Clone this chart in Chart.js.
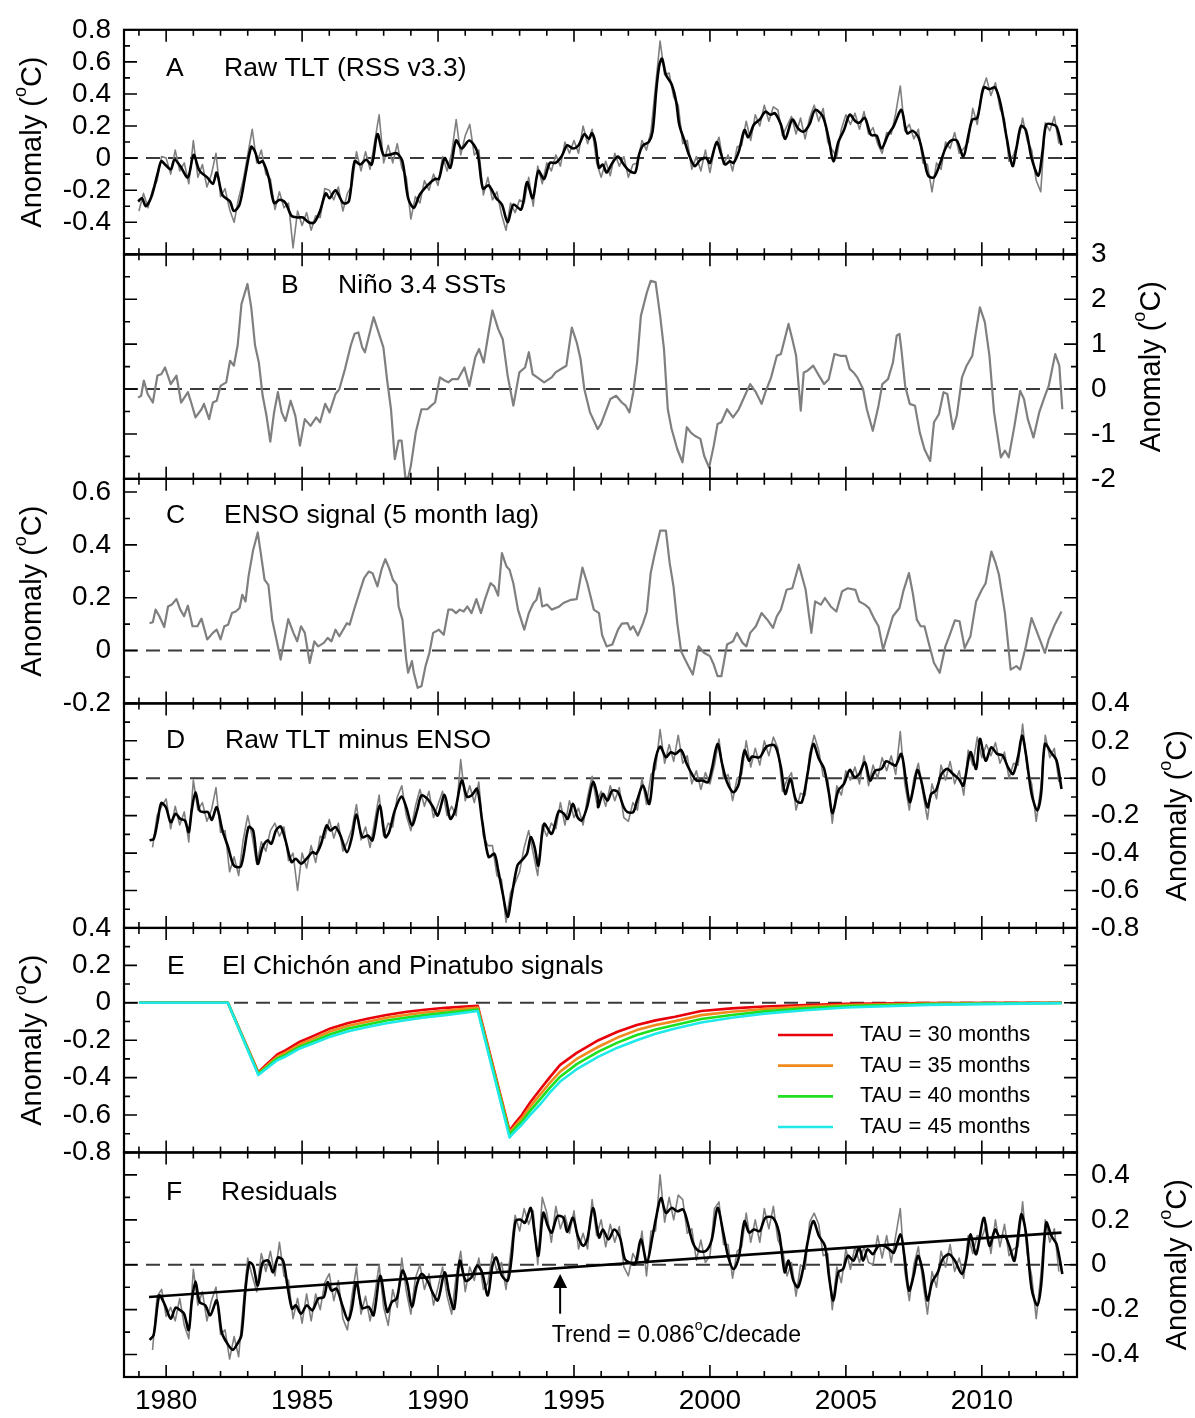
<!DOCTYPE html>
<html>
<head>
<meta charset="utf-8">
<script src="https://cdn.jsdelivr.net/npm/chart.js@4.4.1/dist/chart.umd.min.js"></script>
<style>
  html, body { margin: 0; padding: 0; background: #fff; }
  #wrap { position: relative; width: 1195px; height: 1418px; }
</style>
</head>
<body>
<div id="wrap"><canvas id="chart" width="1195" height="1418"></canvas></div>
<script>
// ---------- data ----------

// A: raw TLT, smoothed (black) as [year, anomaly]
const tltSmooth = [[1978.97,-0.27],[1979.11,-0.25],[1979.25,-0.30],[1979.46,-0.24],[1979.68,-0.10],[1979.82,-0.02],[1979.96,-0.04],[1980.17,-0.07],[1980.31,-0.01],[1980.52,-0.05],[1980.80,-0.12],[1981.01,0.02],[1981.23,-0.08],[1981.51,-0.12],[1981.72,-0.16],[1981.86,-0.09],[1982.07,-0.23],[1982.35,-0.27],[1982.49,-0.33],[1982.70,-0.29],[1982.92,-0.10],[1983.13,0.07],[1983.27,0.04],[1983.41,-0.03],[1983.55,-0.02],[1983.77,-0.12],[1983.97,-0.28],[1984.18,-0.26],[1984.39,-0.28],[1984.61,-0.36],[1984.82,-0.37],[1985.03,-0.37],[1985.24,-0.40],[1985.45,-0.40],[1985.66,-0.33],[1985.87,-0.22],[1986.01,-0.25],[1986.23,-0.20],[1986.51,-0.28],[1986.72,-0.27],[1986.93,-0.02],[1987.14,-0.04],[1987.35,-0.01],[1987.56,-0.04],[1987.77,0.15],[1987.99,0.02],[1988.20,0.02],[1988.48,0.03],[1988.69,-0.02],[1988.90,-0.25],[1989.11,-0.31],[1989.32,-0.23],[1989.61,-0.17],[1989.89,-0.13],[1990.03,-0.13],[1990.24,0.00],[1990.45,-0.06],[1990.66,0.11],[1990.87,0.06],[1991.15,0.11],[1991.44,0.04],[1991.65,-0.19],[1991.86,-0.17],[1992.14,-0.25],[1992.35,-0.29],[1992.56,-0.40],[1992.77,-0.29],[1993.06,-0.32],[1993.27,-0.15],[1993.48,-0.25],[1993.69,-0.08],[1993.90,-0.13],[1994.11,-0.03],[1994.32,-0.03],[1994.54,0.01],[1994.75,0.08],[1994.96,0.06],[1995.17,0.08],[1995.38,0.15],[1995.55,0.12],[1995.66,0.155],[1995.78,0.10],[1995.92,-0.06],[1996.06,-0.04],[1996.20,-0.09],[1996.41,-0.03],[1996.62,0.01],[1996.83,-0.04],[1997.04,-0.08],[1997.25,-0.09],[1997.39,0.02],[1997.54,0.08],[1997.75,0.10],[1997.89,0.165],[1998.03,0.43],[1998.14,0.58],[1998.24,0.62],[1998.38,0.52],[1998.59,0.46],[1998.76,0.35],[1998.87,0.21],[1999.08,0.10],[1999.23,0.02],[1999.44,-0.05],[1999.65,-0.01],[1999.86,0.00],[2000.00,-0.03],[2000.25,0.10],[2000.42,0.02],[2000.56,-0.04],[2000.73,-0.02],[2000.87,-0.03],[2001.06,0.04],[2001.27,0.175],[2001.41,0.13],[2001.62,0.21],[2001.83,0.24],[2002.04,0.29],[2002.23,0.27],[2002.39,0.28],[2002.61,0.21],[2002.77,0.12],[2003.03,0.24],[2003.24,0.185],[2003.45,0.165],[2003.66,0.21],[2003.87,0.30],[2004.15,0.26],[2004.37,0.12],[2004.54,-0.02],[2004.72,0.10],[2004.93,0.175],[2005.14,0.27],[2005.35,0.23],[2005.49,0.22],[2005.70,0.25],[2005.92,0.145],[2006.13,0.14],[2006.31,0.06],[2006.55,0.145],[2006.76,0.20],[2007.04,0.30],[2007.25,0.155],[2007.46,0.17],[2007.68,0.125],[2007.89,-0.02],[2008.03,-0.11],[2008.24,-0.12],[2008.45,-0.04],[2008.66,0.06],[2008.87,0.11],[2009.08,0.11],[2009.32,0.01],[2009.51,0.145],[2009.65,0.24],[2009.83,0.25],[2010.07,0.44],[2010.28,0.43],[2010.49,0.44],[2010.70,0.33],[2010.92,0.12],[2011.13,-0.05],[2011.27,0.06],[2011.44,0.20],[2011.62,0.175],[2011.83,0.00],[2012.08,-0.11],[2012.23,0.04],[2012.37,0.21],[2012.61,0.21],[2012.75,0.195],[2012.93,0.08]];

// A: raw TLT, every second month from Jan 1979 (grey)
const tltRawStart = 1979.0;
const tltRaw = [
  -0.33,-0.22,-0.31,-0.20,-0.14,0.01,
  0.00,-0.10,0.05,-0.08,-0.03,-0.16,
  0.11,-0.12,-0.04,-0.18,-0.10,0.03,
  -0.24,-0.19,-0.32,-0.40,-0.25,-0.14,
  0.02,0.18,-0.03,0.05,-0.10,-0.13,
  -0.32,-0.21,-0.31,-0.28,-0.56,-0.33,
  -0.42,-0.34,-0.45,-0.36,-0.37,-0.19,
  -0.20,-0.26,-0.18,-0.33,-0.22,-0.17,
  0.04,-0.08,0.04,-0.07,0.10,0.27,
  -0.03,0.08,-0.03,0.09,-0.06,-0.12,
  -0.38,-0.24,-0.28,-0.14,-0.20,-0.10,
  -0.17,0.01,-0.08,0.03,0.24,0.02,
  0.14,0.21,0.02,0.05,-0.23,-0.12,
  -0.26,-0.21,-0.35,-0.45,-0.28,-0.34,
  -0.26,-0.28,-0.12,-0.30,-0.05,-0.16,
  -0.03,-0.08,0.02,-0.05,0.10,0.03,
  0.11,0.03,0.20,0.09,0.18,-0.03,
  -0.12,-0.02,-0.11,0.03,-0.05,0.01,
  -0.12,-0.04,-0.03,0.11,0.05,0.17,
  0.45,0.73,0.52,0.53,0.38,0.33,
  0.09,0.11,-0.07,0.01,-0.08,0.05,
  -0.09,0.06,0.13,-0.04,0.02,-0.08,
  0.07,0.08,0.23,0.11,0.27,0.20,
  0.33,0.23,0.32,0.30,0.14,0.20,
  0.26,0.15,0.25,0.12,0.25,0.33,
  0.23,0.31,0.10,0.05,0.01,0.18,
  0.27,0.21,0.28,0.18,0.29,0.15,
  0.19,0.09,0.03,0.16,0.15,0.28,
  0.45,0.17,0.21,0.12,0.18,-0.03,
  -0.04,-0.21,-0.03,-0.07,0.10,0.06,
  0.16,0.03,0.06,0.10,0.31,0.21,
  0.42,0.50,0.39,0.47,0.31,0.24,
  -0.02,0.02,0.10,0.25,0.11,0.05,
  -0.14,-0.21,0.22,0.17,0.26,0.09
];

// B: Nino 3.4 SST anomaly
const nino34 = [[1978.97,-0.19],[1979.08,-0.15],[1979.18,0.19],[1979.32,-0.11],[1979.51,-0.30],[1979.68,0.30],[1979.82,0.33],[1979.96,0.48],[1980.17,0.11],[1980.38,0.30],[1980.55,-0.30],[1980.80,-0.07],[1980.92,-0.30],[1981.08,-0.63],[1981.30,-0.45],[1981.39,-0.33],[1981.58,-0.67],[1981.72,-0.30],[1981.86,-0.26],[1982.00,0.07],[1982.21,0.15],[1982.35,0.63],[1982.49,0.52],[1982.63,0.97],[1982.77,1.89],[1982.99,2.34],[1983.13,1.82],[1983.27,0.97],[1983.41,0.59],[1983.55,-0.15],[1983.69,-0.59],[1983.83,-1.17],[1983.97,-0.52],[1984.11,-0.07],[1984.25,-0.52],[1984.39,-0.71],[1984.58,-0.26],[1984.75,-0.59],[1984.92,-1.26],[1985.10,-0.67],[1985.31,-0.82],[1985.52,-0.63],[1985.66,-0.74],[1985.85,-0.33],[1986.01,-0.52],[1986.23,-0.11],[1986.37,0.00],[1986.58,0.45],[1986.79,0.97],[1986.93,1.23],[1987.07,1.26],[1987.21,0.93],[1987.31,0.82],[1987.49,1.26],[1987.63,1.60],[1987.77,1.34],[1987.99,0.93],[1988.13,0.19],[1988.27,-0.45],[1988.41,-1.56],[1988.55,-1.15],[1988.66,-1.15],[1988.80,-1.98],[1988.90,-1.98],[1989.00,-1.71],[1989.18,-0.97],[1989.39,-0.45],[1989.61,-0.45],[1989.75,-0.37],[1989.89,-0.30],[1990.07,0.26],[1990.24,0.19],[1990.38,0.15],[1990.52,0.22],[1990.73,0.22],[1990.97,0.48],[1991.15,0.07],[1991.37,0.71],[1991.51,0.89],[1991.68,0.59],[1991.86,1.26],[1992.00,1.75],[1992.21,1.34],[1992.38,1.11],[1992.56,0.30],[1992.77,-0.37],[1992.99,0.37],[1993.20,0.48],[1993.34,0.82],[1993.48,0.33],[1993.65,0.26],[1993.90,0.15],[1994.18,0.26],[1994.32,0.37],[1994.61,0.48],[1994.72,0.52],[1994.92,1.37],[1995.10,1.04],[1995.24,0.67],[1995.38,0.00],[1995.59,-0.52],[1995.87,-0.89],[1995.99,-0.78],[1996.13,-0.56],[1996.34,-0.22],[1996.55,-0.15],[1996.76,-0.30],[1996.90,-0.37],[1997.04,-0.52],[1997.18,-0.07],[1997.32,0.59],[1997.46,1.63],[1997.68,2.15],[1997.82,2.41],[1998.00,2.38],[1998.17,1.63],[1998.31,0.89],[1998.45,-0.45],[1998.59,-0.89],[1998.80,-1.34],[1998.99,-1.63],[1999.15,-0.85],[1999.30,-0.97],[1999.44,-1.04],[1999.65,-1.11],[1999.79,-1.49],[1999.97,-1.75],[2000.14,-1.26],[2000.28,-0.78],[2000.42,-0.74],[2000.63,-0.45],[2000.85,-0.63],[2001.06,-0.45],[2001.34,-0.07],[2001.48,0.11],[2001.69,-0.07],[2001.90,-0.33],[2002.04,-0.07],[2002.25,0.26],[2002.46,0.74],[2002.61,0.78],[2002.89,1.45],[2003.03,1.11],[2003.17,0.74],[2003.34,-0.48],[2003.45,0.37],[2003.59,0.41],[2003.80,0.52],[2004.01,0.30],[2004.20,0.11],[2004.37,0.22],[2004.58,0.78],[2004.79,0.74],[2005.00,0.74],[2005.14,0.45],[2005.28,0.37],[2005.42,0.26],[2005.63,0.00],[2005.77,-0.45],[2005.99,-0.93],[2006.20,-0.37],[2006.34,0.11],[2006.55,0.22],[2006.73,0.59],[2006.87,1.19],[2006.97,1.23],[2007.04,0.89],[2007.18,0.07],[2007.35,-0.33],[2007.54,-0.37],[2007.72,-0.97],[2007.89,-1.34],[2008.10,-1.60],[2008.24,-0.74],[2008.42,-0.56],[2008.59,-0.07],[2008.73,-0.11],[2008.94,-0.89],[2009.08,-0.59],[2009.27,0.26],[2009.44,0.52],[2009.65,0.74],[2009.76,1.19],[2009.93,1.82],[2010.11,1.49],[2010.28,0.74],[2010.45,-0.52],[2010.70,-1.52],[2010.85,-1.37],[2010.99,-1.52],[2011.20,-0.82],[2011.41,-0.04],[2011.55,-0.22],[2011.69,-0.67],[2011.90,-1.08],[2012.11,-0.52],[2012.32,-0.15],[2012.46,0.07],[2012.56,0.37],[2012.70,0.78],[2012.85,0.52],[2012.96,-0.45]];

// C: ENSO signal in TLT (5 month lag)
const ensoSignal = [[1979.39,0.104],[1979.51,0.107],[1979.61,0.155],[1979.75,0.13],[1979.93,0.089],[1980.07,0.167],[1980.21,0.174],[1980.38,0.195],[1980.52,0.155],[1980.66,0.13],[1980.80,0.17],[1980.97,0.092],[1981.15,0.092],[1981.30,0.121],[1981.51,0.042],[1981.72,0.067],[1981.86,0.079],[1982.00,0.042],[1982.14,0.092],[1982.28,0.098],[1982.42,0.142],[1982.56,0.148],[1982.70,0.161],[1982.80,0.211],[1982.92,0.186],[1983.03,0.281],[1983.20,0.381],[1983.37,0.447],[1983.48,0.369],[1983.62,0.268],[1983.76,0.249],[1983.90,0.117],[1984.07,0.035],[1984.21,-0.034],[1984.35,0.042],[1984.49,0.119],[1984.68,0.067],[1984.82,0.035],[1984.96,0.092],[1985.10,0.067],[1985.28,-0.047],[1985.45,0.035],[1985.59,0.016],[1985.80,0.029],[1985.94,0.048],[1986.08,0.035],[1986.23,0.079],[1986.37,0.054],[1986.51,0.079],[1986.65,0.104],[1986.75,0.098],[1986.93,0.161],[1987.14,0.23],[1987.28,0.274],[1987.45,0.299],[1987.59,0.293],[1987.77,0.243],[1987.92,0.306],[1988.06,0.346],[1988.20,0.312],[1988.34,0.268],[1988.48,0.249],[1988.55,0.167],[1988.69,0.117],[1988.83,-0.034],[1988.90,-0.084],[1989.04,-0.04],[1989.11,-0.084],[1989.25,-0.141],[1989.39,-0.135],[1989.54,-0.059],[1989.68,-0.009],[1989.82,0.067],[1990.03,0.079],[1990.21,0.06],[1990.38,0.155],[1990.52,0.155],[1990.66,0.142],[1990.80,0.155],[1990.94,0.148],[1991.08,0.167],[1991.23,0.142],[1991.41,0.195],[1991.58,0.142],[1991.72,0.192],[1991.93,0.255],[1992.07,0.243],[1992.21,0.208],[1992.35,0.369],[1992.52,0.318],[1992.63,0.306],[1992.77,0.255],[1992.94,0.155],[1993.17,0.079],[1993.34,0.142],[1993.51,0.18],[1993.62,0.192],[1993.73,0.236],[1993.83,0.167],[1994.01,0.174],[1994.18,0.155],[1994.46,0.167],[1994.61,0.18],[1994.89,0.192],[1995.10,0.195],[1995.31,0.314],[1995.49,0.255],[1995.73,0.155],[1995.92,0.142],[1996.03,0.06],[1996.20,0.016],[1996.41,0.023],[1996.62,0.079],[1996.76,0.102],[1996.97,0.104],[1997.07,0.079],[1997.18,0.092],[1997.35,0.057],[1997.54,0.104],[1997.68,0.148],[1997.82,0.293],[1997.96,0.362],[1998.17,0.454],[1998.38,0.454],[1998.52,0.331],[1998.66,0.243],[1998.80,0.104],[1998.94,-0.003],[1999.15,-0.047],[1999.37,-0.091],[1999.58,0.016],[1999.79,-0.009],[2000.00,-0.021],[2000.14,-0.053],[2000.28,-0.097],[2000.42,-0.097],[2000.63,0.023],[2000.85,0.035],[2000.99,0.067],[2001.20,0.029],[2001.34,0.016],[2001.48,0.067],[2001.69,0.092],[2001.90,0.142],[2002.11,0.117],[2002.32,0.086],[2002.46,0.13],[2002.61,0.155],[2002.82,0.23],[2003.03,0.236],[2003.27,0.325],[2003.52,0.23],[2003.73,0.067],[2003.87,0.186],[2004.08,0.174],[2004.23,0.199],[2004.44,0.167],[2004.65,0.148],[2004.86,0.224],[2005.07,0.236],[2005.35,0.23],[2005.49,0.186],[2005.70,0.174],[2005.85,0.161],[2006.06,0.117],[2006.20,0.092],[2006.37,0.004],[2006.55,0.067],[2006.73,0.13],[2006.97,0.161],[2007.11,0.224],[2007.32,0.293],[2007.46,0.218],[2007.61,0.117],[2007.75,0.092],[2007.89,0.092],[2008.03,0.035],[2008.24,-0.047],[2008.45,-0.084],[2008.66,0.016],[2008.80,0.054],[2009.01,0.114],[2009.18,0.111],[2009.37,0.01],[2009.58,0.054],[2009.79,0.186],[2010.00,0.23],[2010.14,0.255],[2010.35,0.375],[2010.49,0.337],[2010.63,0.287],[2010.85,0.142],[2011.06,-0.072],[2011.27,-0.059],[2011.41,-0.072],[2011.62,0.016],[2011.83,0.123],[2012.11,0.048],[2012.32,-0.009],[2012.46,0.042],[2012.68,0.098],[2012.93,0.148]];

// D: raw TLT minus ENSO, smoothed (black)
const noEnsoSmooth = [[1979.39,-0.332],[1979.54,-0.324],[1979.68,-0.235],[1979.82,-0.133],[1979.99,-0.155],[1980.17,-0.235],[1980.35,-0.19],[1980.52,-0.217],[1980.69,-0.226],[1980.83,-0.288],[1980.94,-0.172],[1981.08,-0.075],[1981.23,-0.172],[1981.37,-0.181],[1981.54,-0.181],[1981.68,-0.222],[1981.86,-0.155],[1982.07,-0.279],[1982.28,-0.368],[1982.49,-0.466],[1982.75,-0.471],[1983.03,-0.261],[1983.20,-0.279],[1983.37,-0.457],[1983.55,-0.368],[1983.73,-0.332],[1983.87,-0.35],[1984.04,-0.279],[1984.21,-0.258],[1984.39,-0.332],[1984.61,-0.448],[1984.77,-0.43],[1984.96,-0.457],[1985.17,-0.43],[1985.38,-0.395],[1985.52,-0.404],[1985.70,-0.35],[1985.90,-0.252],[1986.04,-0.279],[1986.23,-0.261],[1986.41,-0.306],[1986.65,-0.395],[1986.83,-0.315],[1987.00,-0.194],[1987.21,-0.315],[1987.42,-0.306],[1987.59,-0.332],[1987.85,-0.146],[1988.06,-0.315],[1988.20,-0.288],[1988.41,-0.172],[1988.66,-0.098],[1988.83,-0.155],[1989.04,-0.252],[1989.23,-0.172],[1989.39,-0.092],[1989.61,-0.11],[1989.82,-0.155],[1989.99,-0.199],[1990.24,-0.089],[1990.45,-0.217],[1990.63,-0.172],[1990.87,-0.012],[1991.06,-0.098],[1991.23,-0.092],[1991.44,-0.057],[1991.62,-0.226],[1991.86,-0.421],[1992.07,-0.404],[1992.21,-0.492],[1992.38,-0.617],[1992.56,-0.741],[1992.70,-0.635],[1992.92,-0.466],[1993.08,-0.439],[1993.27,-0.404],[1993.41,-0.315],[1993.55,-0.368],[1993.69,-0.466],[1993.90,-0.244],[1994.18,-0.297],[1994.44,-0.176],[1994.63,-0.19],[1994.77,-0.217],[1994.96,-0.137],[1995.13,-0.208],[1995.28,-0.226],[1995.48,-0.155],[1995.70,-0.021],[1995.87,-0.101],[1995.89,-0.155],[1996.06,-0.084],[1996.23,-0.119],[1996.41,-0.066],[1996.62,-0.075],[1996.83,-0.155],[1996.97,-0.181],[1997.18,-0.181],[1997.32,-0.119],[1997.54,-0.039],[1997.77,-0.137],[1997.96,0.076],[1998.17,0.169],[1998.38,0.112],[1998.56,0.139],[1998.73,0.13],[1998.94,0.151],[1999.15,0.076],[1999.37,0.014],[1999.51,-0.012],[1999.72,-0.012],[1999.93,-0.021],[2000.07,0.05],[2000.28,0.183],[2000.45,0.076],[2000.63,-0.021],[2000.87,-0.075],[2001.06,-0.03],[2001.27,0.148],[2001.44,0.094],[2001.55,0.116],[2001.83,0.112],[2002.08,0.169],[2002.39,0.174],[2002.61,0.059],[2002.77,-0.084],[2002.96,-0.004],[2003.17,-0.119],[2003.38,-0.128],[2003.59,0.023],[2003.80,0.183],[2004.01,0.103],[2004.20,0.05],[2004.37,-0.075],[2004.51,-0.187],[2004.72,-0.066],[2004.93,-0.03],[2005.14,0.044],[2005.32,0.005],[2005.49,0.023],[2005.70,0.085],[2005.89,-0.012],[2006.08,0.041],[2006.31,0.05],[2006.48,0.091],[2006.69,0.076],[2006.83,0.068],[2007.04,0.13],[2007.21,-0.012],[2007.35,-0.128],[2007.49,-0.048],[2007.63,0.044],[2007.77,-0.012],[2008.00,-0.155],[2008.14,-0.084],[2008.31,-0.066],[2008.52,0.023],[2008.73,0.05],[2008.94,0.023],[2009.15,-0.004],[2009.32,-0.039],[2009.58,0.139],[2009.79,0.05],[2009.93,0.21],[2010.14,0.094],[2010.35,0.165],[2010.56,0.13],[2010.77,0.121],[2010.96,0.059],[2011.15,0.023],[2011.34,0.121],[2011.48,0.228],[2011.62,0.13],[2011.83,-0.084],[2012.04,-0.172],[2012.18,-0.084],[2012.32,0.183],[2012.54,0.139],[2012.75,0.094],[2012.93,-0.057]];

// D: raw TLT minus ENSO, every second month from mid 1979 (grey)
const noEnsoRawStart = 1979.5;
const noEnsoRaw = [
  -0.37,-0.20,-0.15,
  -0.11,-0.27,-0.15,-0.25,-0.18,-0.34,
  -0.01,-0.17,-0.13,-0.23,-0.17,-0.05,
  -0.29,-0.28,-0.50,-0.42,-0.52,-0.33,
  -0.20,-0.31,-0.46,-0.34,-0.39,-0.28,
  -0.24,-0.31,-0.26,-0.44,-0.40,-0.60,
  -0.40,-0.48,-0.36,-0.45,-0.31,-0.32,
  -0.22,-0.32,-0.24,-0.39,-0.34,-0.27,
  -0.14,-0.33,-0.26,-0.37,-0.23,-0.09,
  -0.31,-0.24,-0.26,-0.10,-0.04,-0.20,
  -0.28,-0.15,-0.06,-0.15,-0.07,-0.21,
  -0.14,-0.07,-0.20,-0.15,-0.20,0.10,
  -0.12,-0.04,-0.13,-0.02,-0.31,-0.36,
  -0.36,-0.52,-0.54,-0.77,-0.61,-0.56,
  -0.50,-0.37,-0.28,-0.40,-0.52,-0.25,
  -0.31,-0.24,-0.27,-0.13,-0.25,-0.12,
  -0.21,-0.16,-0.25,-0.10,0.01,-0.13,
  -0.07,-0.15,-0.04,-0.12,-0.05,-0.21,
  -0.23,-0.13,-0.17,0.00,-0.14,0.02,
  0.05,0.26,0.08,0.18,0.09,0.23,
  0.08,0.12,-0.03,0.04,-0.06,0.03,
  -0.03,0.07,0.21,0.00,0.02,-0.12,
  0.00,0.02,0.20,0.06,0.16,0.07,
  0.20,0.12,0.22,0.16,-0.07,-0.01,
  0.03,-0.17,-0.08,-0.09,0.13,0.23,
  0.15,0.01,0.00,-0.24,-0.04,-0.09,
  0.04,-0.01,0.06,-0.03,0.12,-0.04,
  0.07,0.00,0.11,0.04,0.12,0.02,
  0.25,-0.03,-0.17,0.00,0.08,-0.08,
  -0.22,-0.03,-0.11,0.07,-0.01,0.09,
  -0.03,0.04,-0.09,0.15,0.07,0.22,
  0.11,0.18,0.12,0.19,0.08,0.14,
  0.00,0.08,0.07,0.29,0.05,-0.03,
  -0.23,-0.05,0.23,0.11,0.16,-0.02
];

// E: volcanic signals for four e-folding times
const tauMonths = [30, 35, 40, 45];
const volcYears = [1979.0,1982.27,1983.39,1983.65,1983.93,1984.1,1984.4,1984.92,1985.4,1986.04,1986.7,1987.45,1988.1,1988.86,1989.5,1990.27,1991.46,1992.63,1992.85,1993.08,1993.4,1993.79,1994.1,1994.49,1995.1,1995.9,1996.6,1997.31,1998.0,1998.72,1999.68,2000.8,2002.0,2003.5,2005.0,2008.0,2012.93];
const volcTau30 = [0,0,-0.372,-0.335,-0.297,-0.275,-0.253,-0.208,-0.178,-0.137,-0.108,-0.084,-0.065,-0.048,-0.037,-0.027,-0.016,-0.684,-0.64,-0.60,-0.53,-0.457,-0.40,-0.332,-0.268,-0.20,-0.155,-0.119,-0.094,-0.075,-0.044,-0.030,-0.020,-0.012,-0.006,-0.002,0];
const volcTau35 = [0,0,-0.376,-0.343,-0.307,-0.287,-0.266,-0.222,-0.193,-0.152,-0.123,-0.100,-0.080,-0.064,-0.052,-0.041,-0.026,-0.692,-0.655,-0.618,-0.552,-0.484,-0.43,-0.368,-0.30,-0.235,-0.186,-0.146,-0.119,-0.098,-0.066,-0.048,-0.033,-0.020,-0.012,-0.004,0];
const volcTau40 = [0,0,-0.381,-0.35,-0.316,-0.297,-0.277,-0.235,-0.207,-0.168,-0.138,-0.115,-0.095,-0.079,-0.066,-0.054,-0.036,-0.703,-0.668,-0.636,-0.575,-0.51,-0.456,-0.395,-0.328,-0.261,-0.213,-0.172,-0.143,-0.119,-0.087,-0.065,-0.046,-0.030,-0.018,-0.007,-0.001];
const volcTau45 = [0,0,-0.386,-0.357,-0.324,-0.306,-0.287,-0.244,-0.218,-0.181,-0.152,-0.128,-0.109,-0.092,-0.078,-0.066,-0.044,-0.72,-0.685,-0.652,-0.598,-0.537,-0.482,-0.421,-0.355,-0.288,-0.24,-0.20,-0.165,-0.137,-0.105,-0.080,-0.058,-0.040,-0.025,-0.011,-0.002];

// F: residuals, smoothed (black)
const residSmooth = [[1979.39,-0.335],[1979.54,-0.313],[1979.75,-0.137],[1979.96,-0.181],[1980.17,-0.24],[1980.35,-0.191],[1980.52,-0.203],[1980.66,-0.218],[1980.83,-0.291],[1980.94,-0.166],[1981.08,-0.075],[1981.23,-0.166],[1981.44,-0.181],[1981.62,-0.225],[1981.86,-0.159],[1982.04,-0.299],[1982.21,-0.343],[1982.45,-0.379],[1982.63,-0.35],[1982.77,-0.313],[1982.92,-0.107],[1983.06,0.01],[1983.20,-0.004],[1983.37,-0.093],[1983.55,0.01],[1983.76,0.018],[1983.93,-0.034],[1984.11,0.032],[1984.30,0.018],[1984.46,-0.093],[1984.63,-0.196],[1984.77,-0.181],[1984.96,-0.218],[1985.17,-0.181],[1985.38,-0.203],[1985.59,-0.151],[1985.80,-0.144],[1985.94,-0.078],[1986.08,-0.115],[1986.27,-0.107],[1986.48,-0.181],[1986.69,-0.247],[1986.83,-0.196],[1987.00,-0.078],[1987.21,-0.193],[1987.45,-0.188],[1987.63,-0.225],[1987.87,-0.049],[1988.13,-0.21],[1988.30,-0.166],[1988.48,-0.151],[1988.69,-0.026],[1988.86,-0.078],[1989.04,-0.188],[1989.23,-0.085],[1989.39,-0.041],[1989.61,-0.071],[1989.79,-0.122],[1989.99,-0.159],[1990.24,-0.034],[1990.41,-0.129],[1990.59,-0.196],[1990.80,0.018],[1991.01,-0.071],[1991.23,-0.056],[1991.44,-0.004],[1991.62,-0.034],[1991.83,-0.137],[1992.00,-0.004],[1992.14,0.032],[1992.35,-0.049],[1992.56,-0.071],[1992.70,0.025],[1992.85,0.194],[1993.03,0.201],[1993.20,0.187],[1993.41,0.253],[1993.55,0.143],[1993.69,0.04],[1993.87,0.231],[1994.04,0.172],[1994.18,0.143],[1994.39,0.216],[1994.61,0.209],[1994.75,0.146],[1994.96,0.209],[1995.14,0.128],[1995.34,0.084],[1995.49,0.113],[1995.70,0.253],[1995.92,0.121],[1996.06,0.157],[1996.27,0.113],[1996.48,0.157],[1996.69,0.121],[1996.87,0.025],[1997.04,0.01],[1997.25,0.003],[1997.46,0.113],[1997.68,0.01],[1997.89,0.128],[1998.03,0.216],[1998.20,0.297],[1998.38,0.231],[1998.59,0.253],[1998.80,0.238],[1999.01,0.246],[1999.15,0.201],[1999.37,0.099],[1999.58,0.062],[1999.86,0.062],[2000.07,0.113],[2000.28,0.253],[2000.49,0.143],[2000.68,0.032],[2000.87,-0.019],[2001.06,0.032],[2001.27,0.194],[2001.44,0.143],[2001.62,0.157],[2001.83,0.15],[2002.04,0.209],[2002.32,0.209],[2002.54,0.143],[2002.75,-0.034],[2002.89,0.018],[2003.07,-0.071],[2003.24,-0.1],[2003.45,-0.004],[2003.59,0.099],[2003.80,0.194],[2004.01,0.128],[2004.23,0.084],[2004.39,-0.063],[2004.54,-0.159],[2004.72,-0.034],[2004.90,-0.019],[2005.07,0.04],[2005.28,0.018],[2005.49,0.076],[2005.63,0.018],[2005.80,0.069],[2005.99,0.047],[2006.20,0.084],[2006.41,0.084],[2006.59,0.069],[2006.76,0.054],[2007.01,0.135],[2007.15,0.04],[2007.32,-0.115],[2007.49,-0.049],[2007.65,0.04],[2007.82,-0.026],[2008.00,-0.159],[2008.17,-0.078],[2008.38,-0.034],[2008.56,0.025],[2008.80,0.047],[2009.01,0.018],[2009.27,-0.041],[2009.44,0.032],[2009.58,0.135],[2009.79,0.047],[2010.07,0.209],[2010.28,0.084],[2010.49,0.157],[2010.63,0.128],[2010.85,0.128],[2011.01,0.084],[2011.20,0.018],[2011.45,0.224],[2011.62,0.143],[2011.83,-0.107],[2012.04,-0.181],[2012.18,-0.093],[2012.37,0.187],[2012.56,0.128],[2012.75,0.091],[2012.96,-0.041]];

// F: residuals, every second month from mid 1979 (grey)
const residRawStart = 1979.5;
const residRaw = [
  -0.38,-0.14,-0.11,
  -0.23,-0.19,-0.25,-0.15,-0.27,-0.33,
  -0.02,-0.18,-0.12,-0.25,-0.16,-0.10,
  -0.31,-0.29,-0.42,-0.32,-0.41,-0.18,
  0.03,-0.05,-0.12,0.05,-0.03,0.06,
  -0.05,0.10,-0.05,-0.07,-0.24,-0.15,
  -0.26,-0.13,-0.25,-0.13,-0.20,-0.08,
  -0.04,-0.16,-0.07,-0.24,-0.29,-0.14,
  -0.01,-0.22,-0.14,-0.25,-0.14,0.00,
  -0.19,-0.27,-0.11,-0.19,0.03,-0.12,
  -0.22,-0.06,0.00,-0.11,-0.04,-0.18,
  -0.10,-0.01,-0.14,-0.22,-0.05,0.06,
  -0.12,-0.01,-0.07,0.03,-0.11,-0.08,
  0.05,-0.03,0.01,-0.11,0.05,0.22,
  0.15,0.25,0.18,0.24,0.00,0.30,
  0.23,0.10,0.26,0.16,0.22,0.14,
  0.24,0.07,0.14,0.07,0.29,0.13,
  0.20,0.08,0.18,0.10,0.17,-0.01,
  -0.05,0.05,0.01,0.15,-0.05,0.15,
  0.15,0.40,0.19,0.30,0.20,0.31,
  0.29,0.14,0.16,0.02,0.11,0.01,
  0.04,0.25,0.28,0.09,0.09,-0.06,
  0.06,0.08,0.23,0.10,0.20,0.10,
  0.25,0.16,0.26,0.11,0.07,-0.05,
  0.01,-0.14,0.00,-0.02,0.19,0.23,
  0.18,0.04,0.05,-0.20,-0.01,-0.08,
  0.07,-0.02,0.08,0.01,0.08,0.01,
  0.00,0.13,0.03,0.13,0.01,0.13,
  0.25,-0.03,-0.16,0.00,0.08,-0.08,
  -0.22,-0.03,-0.10,0.06,-0.01,0.09,
  -0.03,0.03,-0.06,0.13,0.05,0.13,
  0.12,0.18,0.05,0.20,0.08,0.18,
  0.04,0.07,0.08,0.28,0.05,-0.05,
  -0.24,-0.05,0.20,0.10,0.16,-0.03
];

// F: linear trend end points
const trendLine = [[1979.37,-0.144],[2012.93,0.143]];
const trendText = ['Trend = 0.086', 'o', 'C/decade'];

// tick labels per panel
const labelsA = [0.8, 0.6, 0.4, 0.2, 0, -0.2, -0.4];
const labelsB = [3, 2, 1, 0, -1, -2];
const labelsC = [0.6, 0.4, 0.2, 0, -0.2];
const labelsD = [0.4, 0.2, 0, -0.2, -0.4, -0.6, -0.8];
const labelsE = [0.4, 0.2, 0, -0.2, -0.4, -0.6, -0.8];
const labelsF = [0.4, 0.2, 0, -0.2, -0.4];

// ---------- layout / styling ----------
const FONT = '"Liberation Sans", Arial, Helvetica, sans-serif';
const GREY = '#7f7f7f';
const tauColors = ['#e8000b', '#f08a1c', '#1ee01e', '#1ee8e8'];

const panels = [
  {id: 'yA', min: -0.6, max: 0.8,  major: 0.2, minor: 0.1, side: 'left',  titleAt: 33,   labels: labelsA, letter: 'A', title: 'Raw TLT (RSS v3.3)', letterX: 166, titleX: 224, dy: 39},
  {id: 'yB', min: -2,   max: 3,    major: 1,   minor: 0.5, side: 'right', titleAt: 1152, labels: labelsB, letter: 'B', title: 'Niño 3.4 SSTs', letterX: 281, titleX: 338, dy: 31},
  {id: 'yC', min: -0.2, max: 0.65, major: 0.2, minor: 0.1, side: 'left',  titleAt: 33,   labels: labelsC, letter: 'C', title: 'ENSO signal (5 month lag)', letterX: 166, titleX: 224, dy: 37},
  {id: 'yD', min: -0.8, max: 0.4,  major: 0.2, minor: 0.1, side: 'right', titleAt: 1178, labels: labelsD, letter: 'D', title: 'Raw TLT minus ENSO', letterX: 166, titleX: 225, dy: 37},
  {id: 'yE', min: -0.8, max: 0.4,  major: 0.2, minor: 0.1, side: 'left',  titleAt: 33,   labels: labelsE, letter: 'E', title: 'El Chichón and Pinatubo signals', letterX: 167, titleX: 222, dy: 39},
  {id: 'yF', min: -0.5, max: 0.5,  major: 0.2, minor: 0.1, side: 'right', titleAt: 1178, labels: labelsF, letter: 'F', title: 'Residuals', letterX: 166, titleX: 221, dy: 40}
];

function fmt(v) {
  const r = Math.round(v * 10) / 10;
  return r === 0 ? '0' : String(r);
}
function pts(pairs) { return pairs.map(p => ({x: p[0], y: p[1]})); }
function everyTwoMonths(start, vals) { return vals.map((v, i) => ({x: start + i / 6, y: v})); }
function zipXY(xs, ys) { return xs.map((x, i) => ({x: x, y: ys[i]})); }

function line(data, axis, color, width, order, tension) {
  return {data: data, yAxisID: axis, borderColor: color, borderWidth: width, order: order,
          pointRadius: 0, tension: tension || 0, fill: false, borderJoinStyle: 'round'};
}

const datasets = [
  line(everyTwoMonths(tltRawStart, tltRaw), 'yA', GREY, 1.6, 20),
  line(pts(tltSmooth), 'yA', '#000', 2.6, 10, 0.3),
  line(pts(nino34), 'yB', GREY, 2.2, 20),
  line(pts(ensoSignal), 'yC', GREY, 2.2, 20),
  line(everyTwoMonths(noEnsoRawStart, noEnsoRaw), 'yD', GREY, 1.6, 20),
  line(pts(noEnsoSmooth), 'yD', '#000', 2.6, 10, 0.3),
  line(zipXY(volcYears, volcTau30), 'yE', tauColors[0], 2.6, 14),
  line(zipXY(volcYears, volcTau35), 'yE', tauColors[1], 2.6, 13),
  line(zipXY(volcYears, volcTau40), 'yE', tauColors[2], 2.6, 12),
  line(zipXY(volcYears, volcTau45), 'yE', tauColors[3], 2.6, 11),
  line(everyTwoMonths(residRawStart, residRaw), 'yF', GREY, 1.6, 20),
  line(pts(residSmooth), 'yF', '#000', 2.6, 10, 0.3),
  line(pts(trendLine), 'yF', '#000', 2.6, 5)
];

function yScale(p, weight) {
  return {
    type: 'linear', position: 'left', stack: 'panels', stackWeight: 1, weight: weight,
    min: p.min, max: p.max,
    grid: {display: false, drawTicks: false},
    border: {display: false},
    ticks: {
      display: p.side === 'left', stepSize: p.major, includeBounds: false, padding: 13,
      autoSkip: false, color: '#000', font: {family: FONT, size: 28},
      callback: v => p.labels.some(l => Math.abs(l - v) < 1e-6) ? fmt(v) : ''
    },
    afterFit: s => { s.width = 124; }
  };
}

const scales = {
  x: {
    type: 'linear', position: 'bottom', min: 1978.45, max: 2013.5,
    grid: {display: false, drawTicks: false},
    border: {display: false},
    ticks: {stepSize: 5, includeBounds: false, padding: 7, maxRotation: 0, autoSkip: false,
            color: '#000', font: {family: FONT, size: 28}, callback: v => String(v)},
    afterFit: s => { s.height = 41; }
  }
};
panels.forEach((p, i) => { scales[p.id] = yScale(p, 10 - i); });

// draws text where every odd part is a superscript
function drawRich(ctx, parts, x, y, size, align) {
  const sizes = parts.map((t, i) => i % 2 ? Math.round(size * 0.62) : size);
  const widths = parts.map((t, i) => { ctx.font = sizes[i] + 'px ' + FONT; return ctx.measureText(t).width; });
  const total = widths.reduce((a, b) => a + b, 0);
  let cx = align === 'center' ? x - total / 2 : x;
  ctx.textAlign = 'left';
  ctx.textBaseline = 'middle';
  parts.forEach((t, i) => {
    ctx.font = sizes[i] + 'px ' + FONT;
    ctx.fillText(t, cx, i % 2 ? y - size * 0.4 : y);
    cx += widths[i];
  });
}

const panelDecor = {
  id: 'panelDecor',
  beforeDatasetsDraw(chart) {
    const ctx = chart.ctx, area = chart.chartArea;
    ctx.save();
    ctx.strokeStyle = '#3a3a3a';
    ctx.lineWidth = 2;
    ctx.setLineDash([14, 8]);
    panels.forEach(p => {
      const y = chart.scales[p.id].getPixelForValue(0);
      ctx.beginPath();
      ctx.moveTo(area.left, y);
      ctx.lineTo(area.right, y);
      ctx.stroke();
    });
    ctx.restore();
  },
  afterDraw(chart) {
    const ctx = chart.ctx, area = chart.chartArea, xs = chart.scales.x;
    ctx.save();
    ctx.strokeStyle = '#000';
    ctx.fillStyle = '#000';
    panels.forEach(p => {
      const s = chart.scales[p.id];
      const top = s.top, bot = s.bottom;

      ctx.lineWidth = 2.2;
      ctx.strokeRect(area.left, top, area.right - area.left, bot - top);

      // inward tick marks on all four sides
      ctx.lineWidth = 1.6;
      ctx.beginPath();
      for (let yr = Math.ceil(xs.min); yr <= xs.max; yr++) {
        const x = xs.getPixelForValue(yr), len = yr % 5 === 0 ? 12 : 6;
        ctx.moveTo(x, top); ctx.lineTo(x, top + len);
        ctx.moveTo(x, bot); ctx.lineTo(x, bot - len);
      }
      const n = Math.floor((p.max - p.min) / p.minor + 1e-6);
      for (let i = 0; i <= n; i++) {
        const v = p.min + i * p.minor;
        const y = s.getPixelForValue(v);
        const q = v / p.major;
        const len = Math.abs(q - Math.round(q)) < 1e-6 ? 13 : 6;
        ctx.moveTo(area.left, y); ctx.lineTo(area.left + len, y);
        ctx.moveTo(area.right, y); ctx.lineTo(area.right - len, y);
      }
      ctx.stroke();

      // right-hand tick labels
      if (p.side === 'right') {
        ctx.font = '28px ' + FONT;
        ctx.textAlign = 'left';
        ctx.textBaseline = 'middle';
        p.labels.forEach(v => ctx.fillText(fmt(v), area.right + 14, s.getPixelForValue(v)));
      }

      // axis title
      ctx.save();
      ctx.translate(p.titleAt, (top + bot) / 2);
      ctx.rotate(-Math.PI / 2);
      drawRich(ctx, ['Anomaly (', 'o', 'C)'], 0, 0, 29, 'center');
      ctx.restore();

      // panel letter and title
      ctx.font = '26.5px ' + FONT;
      ctx.textAlign = 'left';
      ctx.textBaseline = 'middle';
      ctx.fillText(p.letter, p.letterX, top + p.dy);
      ctx.fillText(p.title, p.titleX, top + p.dy);
    });

    // legend in panel E
    const sE = chart.scales.yE;
    tauMonths.forEach((m, i) => {
      const y = sE.top + 107 + i * 30.7;
      ctx.strokeStyle = tauColors[i];
      ctx.lineWidth = 2.6;
      ctx.beginPath();
      ctx.moveTo(778, y); ctx.lineTo(833, y);
      ctx.stroke();
      ctx.fillStyle = '#000';
      ctx.font = '22px ' + FONT;
      ctx.textAlign = 'left';
      ctx.textBaseline = 'middle';
      ctx.fillText('TAU = ' + m + ' months', 860, y);
    });

    // trend arrow and note in panel F
    const sF = chart.scales.yF;
    const ax = xs.getPixelForValue(1994.49);
    const tip = sF.getPixelForValue(-0.041), base = sF.getPixelForValue(-0.218);
    ctx.strokeStyle = '#000';
    ctx.fillStyle = '#000';
    ctx.lineWidth = 2;
    ctx.beginPath();
    ctx.moveTo(ax, base); ctx.lineTo(ax, tip + 10);
    ctx.stroke();
    ctx.beginPath();
    ctx.moveTo(ax, tip); ctx.lineTo(ax - 7, tip + 14); ctx.lineTo(ax + 7, tip + 14);
    ctx.closePath();
    ctx.fill();
    drawRich(ctx, trendText, xs.getPixelForValue(1994.18), sF.getPixelForValue(-0.315), 23, 'left');

    ctx.restore();
  }
};

new Chart(document.getElementById('chart'), {
  type: 'line',
  data: {datasets: datasets},
  options: {
    responsive: false,
    animation: false,
    events: [],
    layout: {padding: {top: 24, right: 118, bottom: 0, left: 0}},
    plugins: {legend: {display: false}, tooltip: {enabled: false}},
    scales: scales
  },
  plugins: [panelDecor]
});
</script>
</body>
</html>
